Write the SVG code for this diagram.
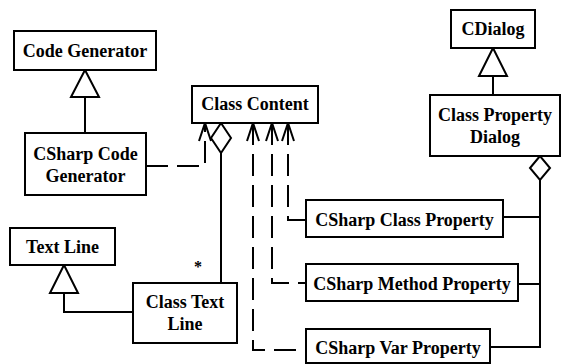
<svg xmlns="http://www.w3.org/2000/svg" width="567" height="364" viewBox="0 0 567 364">
<style>
.box{fill:#fff;stroke:#000;stroke-width:2}
.t{font-family:"Liberation Serif","Times New Roman",serif;font-weight:bold;font-size:18px;text-anchor:middle;fill:#000}
.ln{fill:none;stroke:#000;stroke-width:2}
.dash{fill:none;stroke:#000;stroke-width:2;stroke-dasharray:22 9}
.tri{fill:#fff;stroke:#000;stroke-width:2}
</style>
<rect width="567" height="364" fill="#fff"/>
<g id="connectors">
  <line class="ln" x1="85" y1="97" x2="85" y2="133"/>
  <polygon class="tri" points="85,70 71,97 99,97"/>
  <polyline class="ln" points="64,293 64,312 133,312"/>
  <polygon class="tri" points="64,265 50,293 78,293"/>
  <line class="ln" x1="493" y1="76" x2="493" y2="95"/>
  <polygon class="tri" points="493,48 479,76 507,76"/>
  <line class="ln" x1="540" y1="180" x2="540" y2="348"/>
  <line class="ln" x1="503" y1="217" x2="540" y2="217"/>
  <line class="ln" x1="518" y1="284" x2="540" y2="284"/>
  <line class="ln" x1="490" y1="347" x2="541" y2="347"/>
  <polygon class="tri" points="540,156 530,168 540,180 550,168"/>
  <line class="ln" x1="221" y1="153" x2="221" y2="283"/>
  <polygon class="tri" points="221,123 211,138 221,153 231,138"/>
  <text class="t" x="198" y="272" style="font-size:16px">*</text>
  <path class="dash" d="M146,166 H205 V123"/>
  <path class="dash" d="M253,123 V350 H306"/>
  <path class="dash" d="M272,123 V283 H306"/>
  <path class="dash" d="M288,123 V220 H306"/>
  <polyline class="ln" points="199,141 205,123 211,141"/>
  <polyline class="ln" points="247,141 253,123 259,141"/>
  <polyline class="ln" points="266,141 272,123 278,141"/>
  <polyline class="ln" points="282,141 288,123 294,141"/>
</g>
<g id="code-generator">
  <rect class="box" x="14" y="31" width="142" height="39"/>
  <text class="t" x="85" y="57">Code Generator</text>
</g>
<g id="csharp-code-generator">
  <rect class="box" x="25" y="133" width="121" height="62"/>
  <text class="t" x="85.5" y="160">CSharp Code</text>
  <text class="t" x="85.5" y="182">Generator</text>
</g>
<g id="class-content">
  <rect class="box" x="192" y="86" width="126" height="37"/>
  <text class="t" x="255" y="110">Class Content</text>
</g>
<g id="text-line">
  <rect class="box" x="10" y="228" width="105" height="37"/>
  <text class="t" x="62.5" y="253">Text Line</text>
</g>
<g id="class-text-line">
  <rect class="box" x="133" y="283" width="104" height="60"/>
  <text class="t" x="185" y="308">Class Text</text>
  <text class="t" x="185" y="330">Line</text>
</g>
<g id="csharp-class-property">
  <rect class="box" x="306" y="200" width="197" height="37"/>
  <text class="t" x="404.5" y="226">CSharp Class Property</text>
</g>
<g id="csharp-method-property">
  <rect class="box" x="306" y="264" width="212" height="37"/>
  <text class="t" x="412" y="290">CSharp Method Property</text>
</g>
<g id="csharp-var-property">
  <rect class="box" x="306" y="329" width="184" height="34"/>
  <text class="t" x="398" y="354">CSharp Var Property</text>
</g>
<g id="cdialog">
  <rect class="box" x="451" y="10" width="84" height="38"/>
  <text class="t" x="493" y="35">CDialog</text>
</g>
<g id="class-property-dialog">
  <rect class="box" x="430" y="95" width="130" height="61"/>
  <text class="t" x="495" y="121">Class Property</text>
  <text class="t" x="495" y="143">Dialog</text>
</g>
</svg>
